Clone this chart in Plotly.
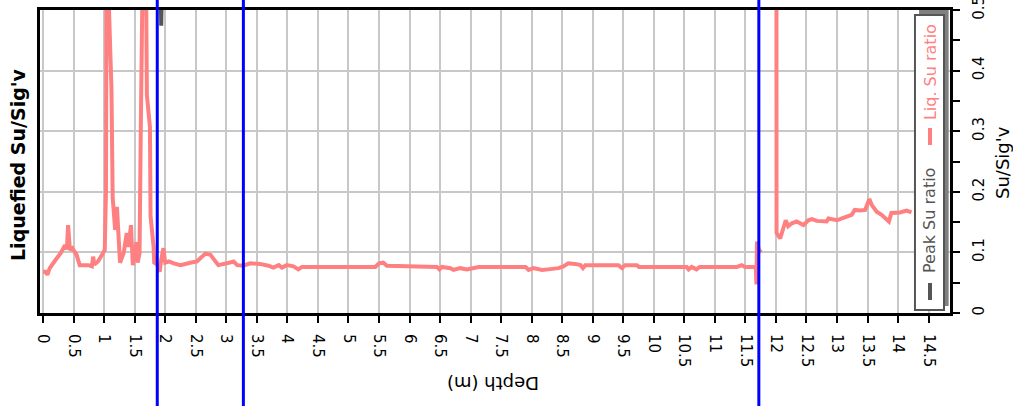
import plotly.graph_objects as go

# Liquefied Su ratio trace (depth in m, Su/Sig'v); None = gap in the data
liq_depth = [0.00, 0.04, 0.07, 0.11, 0.20, 0.29, 0.36, 0.39, 0.41, 0.43, 0.44, 0.48, 0.55, 0.60,
             0.74, 0.80, 0.82, 0.84, 0.90, 0.97, 1.01, 1.03, 1.05, 1.07, 1.08, 1.12, 1.14, 1.16,
             1.18, 1.21, 1.26, 1.32, 1.37, 1.40, 1.44, 1.47, 1.53, 1.55, 1.58, 1.60, 1.61, 1.67,
             1.69, 1.70, 1.75, 1.76, 1.81, 1.82, 1.87, 1.91, 1.93, 1.97, 2.00, 2.06, 2.14, 2.25,
             2.41, 2.52, 2.57, 2.66, 2.74, 2.82, 2.87, 3.01, 3.12, 3.18, 3.28, 3.39, 3.50, 3.55,
             3.69, 3.77, 3.86, 3.91, 3.99, 4.10, 4.18, 4.24, 5.44, 5.50, 5.57, 5.63, 6.45, 6.49,
             6.53, 6.67, 6.72, 6.83, 6.94, 7.08, 7.13, 7.90, 7.95, 8.03, 8.17, 8.27, 8.44, 8.52,
             8.60, 8.71, 8.80, 8.84, 8.88, 9.42, 9.48, 9.53, 9.72, 9.76, 10.54, 10.57, 10.62,
             10.70, 10.75, 11.36, 11.44, 11.49, 11.67, 11.68, 11.69, 11.72, 11.76, None,
             12.00, 12.01, 12.07, 12.12, 12.16, 12.20, 12.26, 12.34, 12.45, 12.53, 12.59, 12.67,
             12.83, 12.86, 13.00, 13.08, 13.16, 13.24, 13.29, 13.38, 13.46, 13.53, 13.57, 13.65,
             13.73, 13.81, 13.85, 13.89, 14.03, 14.14, 14.22]
liq_ratio = [0.068, 0.068, 0.063, 0.074, 0.087, 0.099, 0.112, 0.105, 0.145, 0.110, 0.104, 0.107, 0.096, 0.079,
             0.079, 0.077, 0.093, 0.080, 0.085, 0.097, 0.104, 0.200, 0.900, 0.900, 0.500, 0.370, 0.190, 0.165,
             0.137, 0.175, 0.083, 0.099, 0.132, 0.109, 0.145, 0.079, 0.117, 0.083, 0.099, 0.300, 0.900, 0.900,
             0.500, 0.360, 0.307, 0.160, 0.109, 0.083, 0.080, 0.068, 0.085, 0.107, 0.083, 0.085, 0.082, 0.079,
             0.083, 0.085, 0.090, 0.098, 0.096, 0.085, 0.079, 0.082, 0.085, 0.079, 0.078, 0.082, 0.081, 0.081,
             0.078, 0.075, 0.079, 0.075, 0.079, 0.077, 0.072, 0.076, 0.076, 0.082, 0.083, 0.078, 0.076, 0.072,
             0.076, 0.074, 0.071, 0.074, 0.072, 0.074, 0.076, 0.076, 0.071, 0.074, 0.071, 0.072, 0.074, 0.077,
             0.082, 0.081, 0.079, 0.074, 0.079, 0.079, 0.074, 0.079, 0.079, 0.076, 0.076, 0.072, 0.076,
             0.072, 0.076, 0.076, 0.079, 0.076, 0.076, 0.047, 0.118, 0.104, 0.100, None,
             3.000, 0.132, 0.123, 0.137, 0.153, 0.143, 0.148, 0.151, 0.145, 0.153, 0.155, 0.152,
             0.151, 0.156, 0.153, 0.156, 0.159, 0.162, 0.170, 0.169, 0.170, 0.188, 0.178, 0.167,
             0.162, 0.156, 0.151, 0.165, 0.166, 0.169, 0.166]

# Peak Su ratio trace (mostly above the plotted range)
peak_depth = [1.85, 1.925, 1.935, 2.02]
peak_ratio = [1.00, 0.474, 0.474, 1.00]

# Layer boundary depths (blue lines)
boundary_depths = [1.87, 3.28, 11.72]

# Axis ranges / ticks
depth_range = [-0.05, 14.85]
ratio_range = [0, 0.50001]

FONT = "DejaVu Sans"
PINK = "#FF8080"
GRAY = "#555555"

fig = go.Figure()
fig.add_trace(go.Scatter(x=liq_depth, y=liq_ratio, mode="lines", name="Liq. Su ratio",
                         line=dict(color=PINK, width=4), connectgaps=False, showlegend=False))
fig.add_trace(go.Scatter(x=peak_depth, y=peak_ratio, mode="lines", name="Peak Su ratio",
                         line=dict(color=GRAY, width=4), showlegend=False))

shapes = []
for d in boundary_depths:
    shapes.append(dict(type="line", xref="x", yref="paper", x0=d, x1=d, y0=-0.4, y1=1.1,
                       line=dict(color="#0000FF", width=3), layer="above"))

# Legend box (shadow + box) and line samples
shapes.append(dict(type="rect", xref="paper", yref="paper", x0=0.966, x1=0.9985, y0=0.023, y1=1.0,
                   fillcolor="#808080", line=dict(width=0), layer="above"))
shapes.append(dict(type="rect", xref="paper", yref="paper", x0=0.9615, x1=0.9934, y0=0.0099, y1=0.9835,
                   fillcolor="white", line=dict(color=GRAY, width=2), layer="above"))
shapes.append(dict(type="line", xref="paper", yref="paper", x0=0.978, x1=0.978, y0=0.5545, y1=0.6106,
                   line=dict(color=PINK, width=4), layer="above"))
shapes.append(dict(type="line", xref="paper", yref="paper", x0=0.978, x1=0.978, y0=0.0429, y1=0.099,
                   line=dict(color=GRAY, width=4), layer="above"))

annotations = [
    dict(text="<b>Liquefied Su/Sig'v</b>", x=-0.0242, y=0.4917, xref="paper", yref="paper",
         textangle=-90, showarrow=False, xanchor="center", yanchor="middle",
         font=dict(family=FONT, size=19, color="black")),
    dict(text="Depth (m)", x=0.4978, y=-0.231, xref="paper", yref="paper",
         textangle=180, showarrow=False, xanchor="center", yanchor="middle",
         font=dict(family=FONT, size=18, color="black")),
    dict(text="Su/Sig'v", x=1.057, y=0.498, xref="paper", yref="paper",
         textangle=-90, showarrow=False, xanchor="center", yanchor="middle",
         font=dict(family=FONT, size=18, color="black")),
    dict(text="Liq. Su ratio", x=0.978, y=0.795, xref="paper", yref="paper",
         textangle=-90, showarrow=False, xanchor="center", yanchor="middle",
         font=dict(family=FONT, size=16, color=PINK)),
    dict(text="Peak Su ratio", x=0.978, y=0.307, xref="paper", yref="paper",
         textangle=-90, showarrow=False, xanchor="center", yanchor="middle",
         font=dict(family=FONT, size=16, color=GRAY)),
]

fig.update_layout(
    width=1013, height=406,
    margin=dict(l=40, r=63, t=10, b=93, autoexpand=False),
    paper_bgcolor="white", plot_bgcolor="white",
    font=dict(family=FONT, size=15, color="black"),
    shapes=shapes, annotations=annotations, showlegend=False,
)
fig.update_xaxes(range=depth_range, dtick=0.5, tick0=0, tickangle=90, automargin=False,
                 showgrid=True, gridcolor="#c8c8c8", gridwidth=1.5,
                 showline=True, linecolor="black", linewidth=3, mirror=True,
                 ticks="outside", ticklen=7, tickwidth=2, tickcolor="black",
                 ticklabelstandoff=8,
                 zeroline=False, tickfont=dict(family=FONT, size=15))
fig.update_yaxes(range=ratio_range, dtick=0.1, tick0=0, side="right", tickangle=-90, automargin=False,
                 showgrid=True, gridcolor="#c8c8c8", gridwidth=1.5,
                 showline=True, linecolor="black", linewidth=3, mirror=True,
                 ticks="outside", ticklen=7, tickwidth=2, tickcolor="black",
                 ticklabelstandoff=6, ticklabeloverflow="allow",
                 minor=dict(dtick=0.05, ticks="outside", ticklen=7, tickwidth=2,
                            tickcolor="black", showgrid=False),
                 zeroline=False, tickfont=dict(family=FONT, size=15))

fig.write_html("out.html")
